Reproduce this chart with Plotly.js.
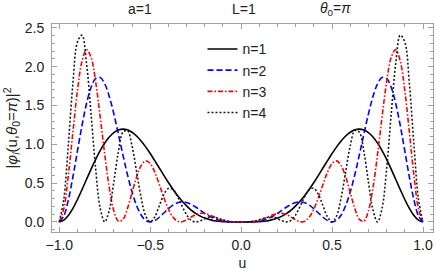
<!DOCTYPE html>
<html><head><meta charset="utf-8">
<script src="https://cdn.plot.ly/plotly-3.0.1.min.js"></script>
<style>html,body{margin:0;padding:0;background:#fff}#chart{width:436px;height:273px}</style>
</head><body><div id="chart"></div>
<script>
const u = [-1,-0.975,-0.95,-0.925,-0.9,-0.875,-0.85,-0.825,-0.8,-0.775,-0.75,-0.725,-0.7,-0.675,-0.65,-0.625,-0.6,-0.575,-0.55,-0.525,-0.5,-0.475,-0.45,-0.425,-0.4,-0.375,-0.35,-0.325,-0.3,-0.275,-0.25,-0.225,-0.2,-0.175,-0.15,-0.125,-0.1,-0.075,-0.05,-0.025,0,0.025,0.05,0.075,0.1,0.125,0.15,0.175,0.2,0.225,0.25,0.275,0.3,0.325,0.35,0.375,0.4,0.425,0.45,0.475,0.5,0.525,0.55,0.575,0.6,0.625,0.65,0.675,0.7,0.725,0.75,0.775,0.8,0.825,0.85,0.875,0.9,0.925,0.95,0.975,1];
const n1 = [0,0.022,0.084,0.175,0.289,0.416,0.549,0.681,0.806,0.919,1.016,1.094,1.150,1.184,1.196,1.186,1.155,1.107,1.043,0.967,0.881,0.789,0.695,0.600,0.508,0.421,0.341,0.269,0.207,0.153,0.110,0.075,0.049,0.030,0.016,0.008,0.003,0.001,0.000,0.000,
 0,0.000,0.000,0.001,0.003,0.008,0.016,0.030,0.049,0.075,0.110,0.153,0.207,0.269,0.341,0.421,0.508,0.600,0.695,0.789,0.881,0.967,1.043,1.107,1.155,1.186,1.196,1.184,1.150,1.094,1.016,0.919,0.806,0.681,0.549,0.416,0.289,0.175,0.084,0.022,0];
const n2 = [0,0.078,0.286,0.580,0.914,1.243,1.526,1.734,1.848,1.861,1.779,1.616,1.392,1.132,0.863,0.608,0.386,0.211,0.089,0.021,0,0.017,0.060,0.115,0.170,0.216,0.246,0.257,0.250,0.226,0.192,0.151,0.111,0.075,0.045,0.024,0.011,0.004,0.001,0.000,
 0,0.000,0.001,0.004,0.011,0.024,0.045,0.075,0.111,0.151,0.192,0.226,0.250,0.257,0.246,0.216,0.170,0.115,0.060,0.017,0,0.021,0.089,0.211,0.386,0.608,0.863,1.132,1.392,1.616,1.779,1.861,1.848,1.734,1.526,1.243,0.914,0.580,0.286,0.078,0];
const n3 = [0,0.169,0.602,1.159,1.691,2.071,2.220,2.119,1.804,1.354,0.869,0.441,0.143,0.009,0.032,0.174,0.377,0.579,0.725,0.786,0.753,0.642,0.483,0.314,0.166,0.062,0.009,0.002,0.026,0.062,0.094,0.110,0.108,0.091,0.066,0.040,0.020,0.007,0.002,0.000,
 0,0.000,0.002,0.007,0.020,0.040,0.066,0.091,0.108,0.110,0.094,0.062,0.026,0.002,0.009,0.062,0.166,0.314,0.483,0.642,0.753,0.786,0.725,0.579,0.377,0.174,0.032,0.009,0.143,0.441,0.869,1.354,1.804,2.119,2.220,2.071,1.691,1.159,0.602,0.169,0];
const n4 = [0,0.294,1.001,1.784,2.318,2.406,2.041,1.384,0.683,0.176,0,0.153,0.515,0.904,1.155,1.177,0.979,0.649,0.313,0.079,0,0.064,0.209,0.352,0.431,0.418,0.329,0.205,0.092,0.021,0,0.014,0.041,0.060,0.060,0.046,0.027,0.011,0.003,0.000,
 0,0.000,0.003,0.011,0.027,0.046,0.060,0.060,0.041,0.014,0,0.021,0.092,0.205,0.329,0.418,0.431,0.352,0.209,0.064,0,0.079,0.313,0.649,0.979,1.177,1.155,0.904,0.515,0.153,0,0.176,0.683,1.384,2.041,2.406,2.318,1.784,1.001,0.294,0];
const seriesNames = ['n=1','n=2','n=3','n=4'];
const xTicks = [-1,-0.5,0,0.5,1];
const yTicks = [0,0.5,1,1.5,2,2.5];

const font = {family:'Liberation Sans, Arial, sans-serif', size:14, color:'#222'};
const titleFont = {family:'Liberation Sans, Arial, sans-serif', size:15, color:'#222'};
const mk = (y, name, color, dash) => ({x:u, y:y, name:name, type:'scatter', mode:'lines',
  line:{color:color, width:1.6, dash:dash, shape:'spline', smoothing:1}});
const traces = [
  mk(n1, seriesNames[0], '#000000', 'solid'),
  mk(n2, seriesNames[1], '#0000ff', '6px,3px'),
  mk(n3, seriesNames[2], '#ff0000', '5px,2px,1.5px,2px'),
  mk(n4, seriesNames[3], '#1a1a1a', '2px,2px')
];
const axBase = {showgrid:false, zeroline:false, showline:true, linecolor:'#a0a0a0', linewidth:1,
  mirror:'ticks', ticks:'inside', ticklen:5, tickcolor:'#a0a0a0', tickwidth:1, tickfont:font,
  tickformat:'.1f'};
const layout = {
  width:436, height:273, margin:{l:52, r:3, t:24, b:41},
  paper_bgcolor:'#fff', plot_bgcolor:'#fff', font:font, showlegend:true,
  xaxis:Object.assign({}, axBase, {range:[-1.04,1.055], tickvals:xTicks,
    minor:{dtick:0.1, ticklen:3, tickcolor:'#a0a0a0', ticks:'inside'},
    title:{text:'u', font:font, standoff:6}}),
  yaxis:Object.assign({}, axBase, {range:[-0.13,2.55], tickvals:yTicks, ticklabelstandoff:4,
    minor:{dtick:0.1, ticklen:3, tickcolor:'#a0a0a0', ticks:'inside'},
    title:{text:'|<i>φ</i><sub><i>l</i></sub>(u,<i>θ</i><sub>0</sub>=<i>π</i>)|<sup>2</sup>', font:titleFont, standoff:3}}),
  legend:{x:0.395, y:0.955, xanchor:'left', yanchor:'top', bgcolor:'rgba(0,0,0,0)',
    font:{family:font.family, size:14, color:'#222'}},
  annotations:[
    {text:'a=1', xref:'paper', yref:'paper', x:0.231, y:1.072, showarrow:false, font:font, xanchor:'center', yanchor:'middle'},
    {text:'L=1', xref:'paper', yref:'paper', x:0.504, y:1.072, showarrow:false, font:font, xanchor:'center', yanchor:'middle'},
    {text:'<i>θ</i><sub>0</sub>=<i>π</i>', xref:'paper', yref:'paper', x:0.743, y:1.072, showarrow:false, font:font, xanchor:'center', yanchor:'middle'}
  ]
};
Plotly.newPlot('chart', traces, layout, {staticPlot:true, displayModeBar:false});
</script></body></html>
